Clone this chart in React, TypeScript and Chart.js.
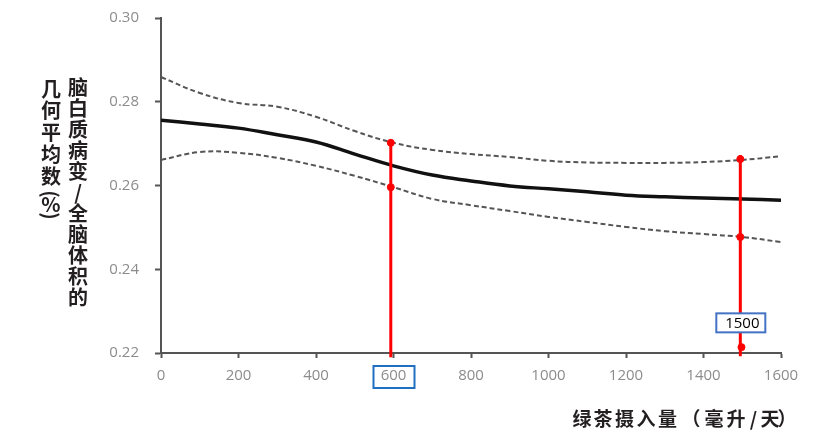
import React, { useEffect, useRef } from 'react';
import { Chart, registerables } from 'chart.js';

Chart.register(...registerables);

const xValues = [0, 100, 200, 300, 400, 500, 600, 700, 800, 900, 1000, 1100, 1200, 1300, 1400, 1500, 1600];
const meanValues = [0.2756, 0.2747, 0.2737, 0.2721, 0.2704, 0.2675, 0.2647, 0.2625, 0.2611, 0.2599, 0.2592, 0.2585, 0.2577, 0.2573, 0.2570, 0.2568, 0.2565];
const upperValues = [0.2859, 0.2821, 0.2797, 0.2788, 0.2764, 0.2730, 0.2702, 0.2685, 0.2675, 0.2668, 0.2659, 0.2655, 0.2654, 0.2654, 0.2656, 0.2661, 0.2670];
const lowerValues = [0.2661, 0.2680, 0.2678, 0.2666, 0.2647, 0.2623, 0.2596, 0.2568, 0.2553, 0.2539, 0.2525, 0.2513, 0.2501, 0.2491, 0.2484, 0.2477, 0.2465];

const markerXs = [593, 1495];
const markerTops = [0.2704, 0.2673];
const markerUppers = [0.2702, 0.2663];
const markerLowers = [0.2596, 0.2477];
const markerBottoms = [0.2190, 0.2192];
const markerBaseDot = 0.2214;

const yMin = 0.22;
const yMax = 0.30;
const yStep = 0.02;
const xMin = 0;
const xMax = 1600;
const xStep = 200;

const yTitleRight = '脑白质病变/全脑体积的';
const yTitleLeft = ['几', '何', '平', '均', '数', '(', '%', ')'];
const xTitle = ['绿', '茶', '摄', '入', '量', '（', '毫', '升', '/', '天', '）'];
const highlightTick = 600;
const boxLabel = '1500';
const boxLabelY = 0.2272;

const CJK = '"Noto Sans CJK SC", "Noto Sans", sans-serif';
const NUM = '"Open Sans", "Liberation Sans", sans-serif';

const annotPlugin = {
  id: 'annot',
  afterDraw(chart: any) {
    const ctx = chart.ctx as CanvasRenderingContext2D;
    const xs = chart.scales.x;
    const ys = chart.scales.y;
    ctx.save();
    // y title columns
    ctx.fillStyle = '#231f20';
    ctx.font = 'bold 20px ' + CJK;
    ctx.textAlign = 'center';
    ctx.textBaseline = 'middle';
    let y = 87;
    for (const ch of Array.from(yTitleRight)) {
      ctx.fillText(ch, 78, y);
      y += 21;
    }
    const leftCenters = [89, 110, 132, 154, 176, 194, 204, 216];
    yTitleLeft.forEach((ch, i) => {
      const cy = leftCenters[i];
      if (ch === '(' || ch === ')') {
        ctx.save();
        ctx.translate(51, cy);
        ctx.rotate(Math.PI / 2);
        ctx.fillText(ch, 0, 0);
        ctx.restore();
      } else {
        ctx.fillText(ch, 51, cy);
      }
    });
    // x title, char by char
    ctx.font = 'bold 19px ' + CJK;
    ctx.textAlign = 'center';
    ctx.fillStyle = '#231f20';
    const xCenters = [582, 603, 624.5, 646, 667.5, 691, 714, 736, 753.5, 770, 787];
    xTitle.forEach((ch, i) => ctx.fillText(ch, xCenters[i], 419));

    // box around highlighted tick label
    const hx = xs.getPixelForValue(highlightTick);
    ctx.strokeStyle = '#1f70c1';
    ctx.lineWidth = 2;
    ctx.strokeRect(hx - 20, 366, 41, 22);

    // 1500 label box
    const bx = xs.getPixelForValue(markerXs[1]);
    const by = ys.getPixelForValue(boxLabelY);
    ctx.fillStyle = '#ffffff';
    ctx.fillRect(bx - 24, by - 9.5, 49, 19);
    ctx.strokeStyle = '#4472c4';
    ctx.lineWidth = 2;
    ctx.strokeRect(bx - 24, by - 9.5, 49, 19);
    ctx.fillStyle = '#000000';
    ctx.font = '15px ' + NUM;
    ctx.textAlign = 'center';
    ctx.textBaseline = 'middle';
    ctx.fillText(boxLabel, bx + 2, by + 0.5);
    ctx.restore();
  },
};

export default function App() {
  const ref = useRef<HTMLCanvasElement | null>(null);
  useEffect(() => {
    document.body.style.margin = '0';
    const toPts = (vals: number[]) => xValues.map((x, i) => ({ x, y: vals[i] }));
    const redSets = markerXs.map((mx, i) => ({
      type: 'line' as const,
      data: [
        { x: mx, y: markerTops[i] },
        { x: mx, y: markerBottoms[i] },
      ],
      borderColor: '#ff0000',
      borderWidth: 3,
      pointRadius: 0,
      clip: false,
      order: 0,
    }));
    const dotSets = {
      type: 'scatter' as const,
      data: [
        { x: markerXs[0], y: markerUppers[0] },
        { x: markerXs[0], y: markerLowers[0] },
        { x: markerXs[1], y: markerUppers[1] },
        { x: markerXs[1], y: markerLowers[1] },
        { x: markerXs[1] + 3, y: markerBaseDot },
      ],
      backgroundColor: '#ff0000',
      borderColor: '#ff0000',
      pointRadius: 3.5,
      clip: false,
      order: -1,
    };
    const chart = new Chart(ref.current as HTMLCanvasElement, {
      type: 'line',
      data: {
        datasets: [
          {
            data: toPts(upperValues),
            borderColor: '#555555',
            borderWidth: 2,
            borderDash: [5, 3],
            pointRadius: 0,
            tension: 0.4,
            order: 3,
          },
          {
            data: toPts(lowerValues),
            borderColor: '#555555',
            borderWidth: 2,
            borderDash: [5, 3],
            pointRadius: 0,
            tension: 0.4,
            order: 3,
          },
          {
            data: toPts(meanValues),
            borderColor: '#111111',
            borderWidth: 3.5,
            pointRadius: 0,
            tension: 0.4,
            order: 2,
          },
          ...redSets,
          dotSets,
        ] as any,
      },
      options: {
        animation: false,
        responsive: false,
        maintainAspectRatio: false,
        layout: { padding: { top: 18, right: 55, left: 0, bottom: 0 } },
        plugins: { legend: { display: false }, tooltip: { enabled: false } },
        scales: {
          x: {
            type: 'linear',
            min: xMin,
            max: xMax,
            ticks: {
              stepSize: xStep,
              color: '#8c8c8c',
              font: { family: NUM, size: 15 },
              padding: 9,
              maxRotation: 0,
              callback: (v: any) => String(v),
            },
            grid: { drawOnChartArea: false, drawTicks: true, tickLength: 5, color: '#555555', tickWidth: 2 },
            border: { color: '#555555', width: 2 },
            afterFit: (s: any) => {
              s.height = 93;
              s.paddingLeft = 0;
              s.paddingRight = 0;
            },
          },
          y: {
            type: 'linear',
            min: yMin,
            max: yMax,
            ticks: {
              stepSize: yStep,
              color: '#8c8c8c',
              font: { family: NUM, size: 15 },
              padding: 16,
              callback: (v: any) => Number(v).toFixed(2),
            },
            grid: { drawOnChartArea: false, drawTicks: true, tickLength: 6, color: '#555555', tickWidth: 2 },
            border: { color: '#555555', width: 2 },
            afterFit: (s: any) => {
              s.width = 161;
              s.paddingTop = 0;
              s.paddingBottom = 0;
            },
          },
        },
      },
      plugins: [annotPlugin],
    });
    return () => chart.destroy();
  }, []);
  return (
    <div style={{ position: 'fixed', left: 0, top: 0, width: 836, height: 446, background: '#fff' }}>
      <canvas ref={ref} width={836} height={446} style={{ width: 836, height: 446 }} />
    </div>
  );
}
